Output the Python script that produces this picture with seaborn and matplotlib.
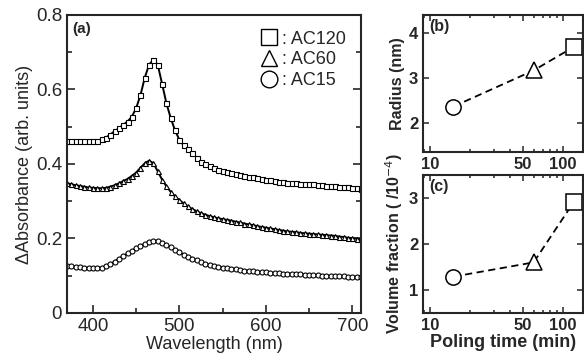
import numpy as np
import pandas as pd
import seaborn as sns
import matplotlib.pyplot as plt
from matplotlib.lines import Line2D
from matplotlib.ticker import FixedLocator, MultipleLocator, NullFormatter, LogLocator

sns.set_style("ticks")
plt.rcParams['font.family'] = ['Liberation Sans', 'DejaVu Sans']

# wavelength grid (nm) of the read points
wl = list(range(370, 715, 5))

ac120 = [0.462, 0.462, 0.462, 0.462, 0.462, 0.462, 0.462, 0.463, 0.466, 0.471,
         0.479, 0.488, 0.496, 0.505, 0.514, 0.527, 0.550, 0.585, 0.632, 0.667,
         0.680, 0.666, 0.615, 0.563, 0.523, 0.490, 0.465, 0.450, 0.439, 0.430,
         0.417, 0.406, 0.399, 0.394, 0.389, 0.385, 0.382, 0.379, 0.376, 0.373,
         0.370, 0.368, 0.366, 0.364, 0.362, 0.360, 0.358, 0.356, 0.354, 0.352,
         0.351, 0.350, 0.349, 0.348, 0.347, 0.346, 0.346, 0.345, 0.344, 0.343,
         0.342, 0.341, 0.340, 0.339, 0.338, 0.337, 0.336, 0.335, 0.334]

ac60 = [0.348, 0.346, 0.343, 0.341, 0.339, 0.337, 0.336, 0.335, 0.335, 0.336,
        0.339, 0.343, 0.348, 0.354, 0.360, 0.368, 0.377, 0.390, 0.402, 0.409,
        0.402, 0.380, 0.358, 0.340, 0.325, 0.313, 0.303, 0.294, 0.286, 0.279,
        0.273, 0.268, 0.264, 0.260, 0.257, 0.254, 0.252, 0.250, 0.248, 0.245,
        0.243, 0.240, 0.238, 0.236, 0.233, 0.231, 0.229, 0.227, 0.225, 0.223,
        0.221, 0.219, 0.218, 0.217, 0.215, 0.214, 0.213, 0.212, 0.211, 0.210,
        0.209, 0.208, 0.207, 0.205, 0.204, 0.202, 0.201, 0.199, 0.198]

ac15 = [0.126, 0.125, 0.124, 0.123, 0.122, 0.121, 0.121, 0.121, 0.122, 0.125,
        0.131, 0.138, 0.146, 0.153, 0.160, 0.167, 0.174, 0.180, 0.186, 0.191,
        0.193, 0.192, 0.188, 0.183, 0.177, 0.170, 0.163, 0.157, 0.151, 0.146,
        0.141, 0.136, 0.132, 0.129, 0.126, 0.124, 0.122, 0.121, 0.119, 0.117,
        0.116, 0.114, 0.113, 0.112, 0.111, 0.110, 0.109, 0.108, 0.107, 0.107,
        0.106, 0.106, 0.105, 0.105, 0.104, 0.103, 0.102, 0.102, 0.101, 0.100,
        0.100, 0.099, 0.099, 0.098, 0.098, 0.097, 0.097, 0.097, 0.097]

# poling time series
samples = ['AC15', 'AC60', 'AC120']
poling_time = [15, 60, 120]
radius = [2.37, 3.17, 3.69]
vol_frac = [1.29, 1.60, 2.91]
markers = {'AC15': 'o', 'AC60': '^', 'AC120': 's'}

fig = plt.figure(figsize=(5.84, 3.62), dpi=100)
ax1 = fig.add_axes([0.1147, 0.1354, 0.5034, 0.8232])
ax2 = fig.add_axes([0.7243, 0.5800, 0.2740, 0.3786])
ax3 = fig.add_axes([0.7243, 0.1354, 0.2740, 0.3812])

# (a) spectra
for name, vals, m in [('AC120', ac120, 's'), ('AC60', ac60, '^'), ('AC15', ac15, 'o')]:
    sns.lineplot(x=wl, y=vals, ax=ax1, color='black', lw=1.4, marker=m,
                 markersize=3.6, markerfacecolor='white', markeredgecolor='black',
                 markeredgewidth=0.8)

ax1.set_xlim(370, 710)
ax1.set_ylim(0, 0.8)
ax1.xaxis.set_major_locator(MultipleLocator(100))
ax1.xaxis.set_minor_locator(MultipleLocator(50))
ax1.yaxis.set_major_locator(FixedLocator([0, 0.2, 0.4, 0.6, 0.8]))
ax1.yaxis.set_minor_locator(MultipleLocator(0.1))
ax1.set_yticklabels(['0', '0.2', '0.4', '0.6', '0.8'])
ax1.tick_params(which='both', direction='in', right=True, top=False, labelsize=13.5, width=1.2)
ax1.tick_params(which='major', length=6)
ax1.tick_params(which='minor', length=3.5)
ax1.set_xlabel('Wavelength (nm)', fontsize=13, labelpad=1)
ax1.set_ylabel('ΔAbsorbance (arb. units)', fontsize=13, labelpad=2)
ax1.text(0.018, 0.975, '(a)', transform=ax1.transAxes, fontsize=11,
         fontweight='bold', va='top', ha='left')

handles = [Line2D([], [], ls='none', marker=m, markersize=12, markerfacecolor='white',
                  markeredgecolor='black', markeredgewidth=1.0)
           for m in ['s', '^', 'o']]
ax1.legend(handles, [': AC120', ': AC60', ': AC15'], loc='upper right',
           bbox_to_anchor=(0.99, 0.99), frameon=False, fontsize=13,
           handlelength=0.9, handletextpad=0.25, labelspacing=0.2, borderaxespad=0.3)

# (b) and (c)
df = pd.DataFrame({'sample': samples, 'time': poling_time,
                   'radius': radius, 'vf': vol_frac})
for ax, col in [(ax2, 'radius'), (ax3, 'vf')]:
    sns.lineplot(data=df, x='time', y=col, ax=ax, color='black', lw=1.3,
                 linestyle=(0, (4, 2.5)))
    for _, r in df.iterrows():
        ax.plot(r['time'], r[col], ls='none', marker=markers[r['sample']],
                markersize=11, markerfacecolor='white', markeredgecolor='black',
                markeredgewidth=1.1)
    ax.set_xscale('log')
    ax.set_xlim(8.85, 141)
    ax.xaxis.set_major_locator(FixedLocator([10, 50, 100]))
    ax.xaxis.set_minor_locator(LogLocator(base=10, subs=np.arange(2, 10)))
    ax.xaxis.set_minor_formatter(NullFormatter())
    ax.set_xticklabels(['10', '50', '100'])
    ax.tick_params(which='both', direction='in', right=True, top=True, width=1.1,
                   labelsize=12)
    ax.tick_params(which='major', length=4)
    ax.tick_params(which='minor', length=2)
    for lab in ax.get_xticklabels() + ax.get_yticklabels():
        lab.set_fontweight('bold')

ax2.set_ylim(1.36, 4.4)
ax2.yaxis.set_major_locator(FixedLocator([2, 3, 4]))
ax2.set_yticklabels(['2', '3', '4'], fontweight='bold')
ax2.set_xlabel('')
ax2.set_ylabel('Radius (nm)', fontsize=11.5, fontweight='bold', labelpad=3)
ax2.text(0.04, 0.97, '(b)', transform=ax2.transAxes, fontsize=11.5,
         fontweight='bold', va='top', ha='left')

ax3.set_ylim(0.5, 3.5)
ax3.yaxis.set_major_locator(FixedLocator([1, 2, 3]))
ax3.set_yticklabels(['1', '2', '3'], fontweight='bold')
ax3.set_xlabel('Poling time (min)', fontsize=13, fontweight='bold', labelpad=1)
ax3.set_ylabel('Volume fraction ( /10$^{-4}$)', fontsize=11.5, fontweight='bold', labelpad=3)
ax3.text(0.04, 0.97, '(c)', transform=ax3.transAxes, fontsize=11.5,
         fontweight='bold', va='top', ha='left')

for ax in (ax1, ax2, ax3):
    for s in ax.spines.values():
        s.set_linewidth(1.5)

plt.savefig('out.png', dpi=100)
